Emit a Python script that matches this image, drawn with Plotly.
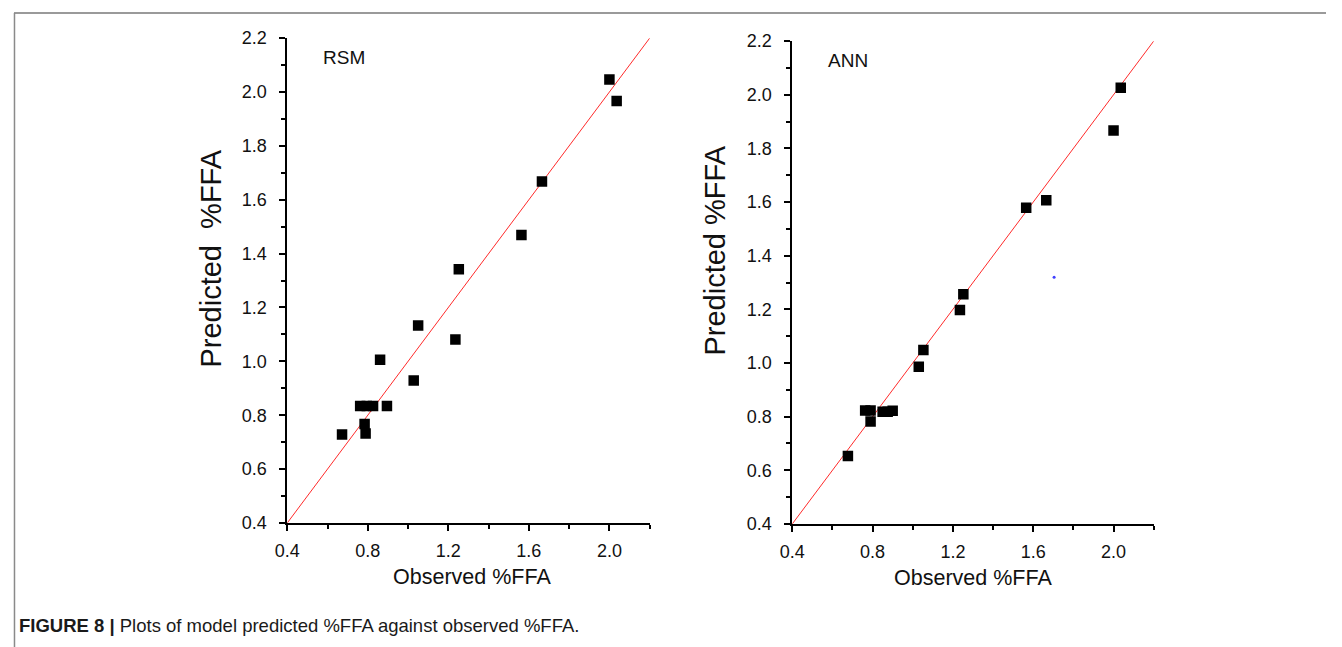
import plotly.graph_objects as go

# RSM model: observed vs predicted %FFA
rsm_observed = [2.00, 2.036, 1.665, 1.563, 1.252, 1.050, 1.235, 0.861, 1.028,
                0.762, 0.795, 0.826, 0.895, 0.784, 0.789, 0.672]
rsm_predicted = [2.046, 1.967, 1.668, 1.469, 1.342, 1.133, 1.081, 1.006, 0.929,
                 0.834, 0.834, 0.834, 0.834, 0.767, 0.732, 0.728]

# ANN model: observed vs predicted %FFA
ann_observed = [2.036, 2.00, 1.665, 1.565, 1.252, 1.235, 1.053, 1.030,
                0.763, 0.790, 0.850, 0.875, 0.900, 0.790, 0.677]
ann_predicted = [2.026, 1.867, 1.607, 1.579, 1.256, 1.198, 1.048, 0.986,
                 0.823, 0.823, 0.818, 0.818, 0.822, 0.782, 0.653]

# stray blue dot in the ANN panel
ann_stray_x = [1.704]
ann_stray_y = [1.32]

# 1:1 reference line endpoints
line_ends = [0.4, 2.2]

# page body keeps an 8px margin
OFF = 8
W, H = 1342 - 2 * OFF, 660
YS = 0.968  # observed vertical scale of the capture
def px(x):
    return (x - OFF) / W
def py(y):
    page_y = (y - 1.2) / YS
    return 1 - (page_y - OFF) / H

FONT = "Liberation Sans, Arial, sans-serif"

fig = go.Figure()

marker = dict(symbol="square", size=10.5, color="black", line=dict(width=0))

fig.add_trace(go.Scatter(x=line_ends, y=line_ends, mode="lines",
                         line=dict(color="#ff2a2a", width=1),
                         xaxis="x", yaxis="y", showlegend=False, hoverinfo="skip"))
fig.add_trace(go.Scatter(x=rsm_observed, y=rsm_predicted, mode="markers",
                         marker=marker, xaxis="x", yaxis="y", showlegend=False))
fig.add_trace(go.Scatter(x=line_ends, y=line_ends, mode="lines",
                         line=dict(color="#ff2a2a", width=1),
                         xaxis="x2", yaxis="y2", showlegend=False, hoverinfo="skip"))
fig.add_trace(go.Scatter(x=ann_observed, y=ann_predicted, mode="markers",
                         marker=marker, xaxis="x2", yaxis="y2", showlegend=False))
fig.add_trace(go.Scatter(x=ann_stray_x, y=ann_stray_y, mode="markers",
                         marker=dict(size=3, color="#4040ff"),
                         xaxis="x2", yaxis="y2", showlegend=False))

tickfont = dict(family=FONT, size=18, color="#111111")

def xax(domain, anchor):
    return dict(domain=domain, anchor=anchor, range=[0.4, 2.2001],
                tick0=0.4, dtick=0.4, tickformat=".1f",
                ticks="outside", ticklen=6, tickwidth=1.5, tickcolor="black",
                ticklabelstandoff=4,
                minor=dict(tick0=0.4, dtick=0.2, ticks="outside", ticklen=4,
                           tickwidth=1.5, tickcolor="black"),
                showline=True, linecolor="black", linewidth=2,
                showgrid=False, zeroline=False, tickfont=tickfont)

def yax(domain, anchor):
    return dict(domain=domain, anchor=anchor, range=[0.3999, 2.2001],
                tick0=0.4, dtick=0.2, tickformat=".1f",
                ticks="outside", ticklen=6, tickwidth=1.5, tickcolor="black",
                ticklabelstandoff=9,
                minor=dict(tick0=0.4, dtick=0.1, ticks="outside", ticklen=4,
                           tickwidth=1.5, tickcolor="black"),
                showline=True, linecolor="black", linewidth=2,
                showgrid=False, zeroline=False, tickfont=tickfont)

fig.update_layout(
    width=W, height=H, margin=dict(l=0, r=0, t=0, b=0),
    paper_bgcolor="white", plot_bgcolor="white",
    xaxis=xax([px(285), px(651)], "y"),
    yaxis=yax([py(521), py(37)], "x"),
    xaxis2=xax([px(795), px(1160)], "y2"),
    yaxis2=yax([py(522), py(40)], "x2"),
)

xtitlefont = dict(family=FONT, size=21.5, color="#111111")
ytitlefont = dict(family=FONT, size=29, color="#111111")
labelfont = dict(family=FONT, size=19, color="#111111")

annotations = [
    dict(text="Observed %FFA", x=px(472), y=py(575), xref="paper", yref="paper",
         showarrow=False, font=xtitlefont, xanchor="center", yanchor="middle"),
    dict(text="Observed %FFA", x=px(977), y=py(576), xref="paper", yref="paper",
         showarrow=False, font=xtitlefont, xanchor="center", yanchor="middle"),
    dict(text="Predicted\u00a0\u00a0%FFA", x=px(208), y=py(257), xref="paper", yref="paper",
         showarrow=False, font=ytitlefont, textangle=-90, xanchor="center", yanchor="middle"),
    dict(text="Predicted %FFA", x=px(717), y=py(249), xref="paper", yref="paper",
         showarrow=False, font=ytitlefont, textangle=-90, xanchor="center", yanchor="middle"),
    dict(text="RSM", x=px(319), y=py(56), xref="paper", yref="paper",
         showarrow=False, font=labelfont, xanchor="left", yanchor="middle"),
    dict(text="ANN", x=px(829), y=py(59), xref="paper", yref="paper",
         showarrow=False, font=labelfont, xanchor="left", yanchor="middle"),
    dict(text="<b>FIGURE 8 |</b> Plots of model predicted %FFA against observed %FFA.",
         x=px(12), y=py(623), xref="paper", yref="paper", showarrow=False,
         font=dict(family=FONT, size=18.5, color="#1a1a1a"),
         xanchor="left", yanchor="middle"),
]
fig.update_layout(annotations=annotations)

fig.update_layout(shapes=[
    dict(type="line", xref="paper", yref="paper", x0=px(9), x1=1, y0=py(12), y1=py(12),
         line=dict(color="#9a9a9a", width=2)),
    dict(type="line", xref="paper", yref="paper", x0=px(9.5), x1=px(9.5), y0=py(12), y1=0,
         line=dict(color="#8a8a8a", width=1.5)),
])

fig.write_html("out.html")
